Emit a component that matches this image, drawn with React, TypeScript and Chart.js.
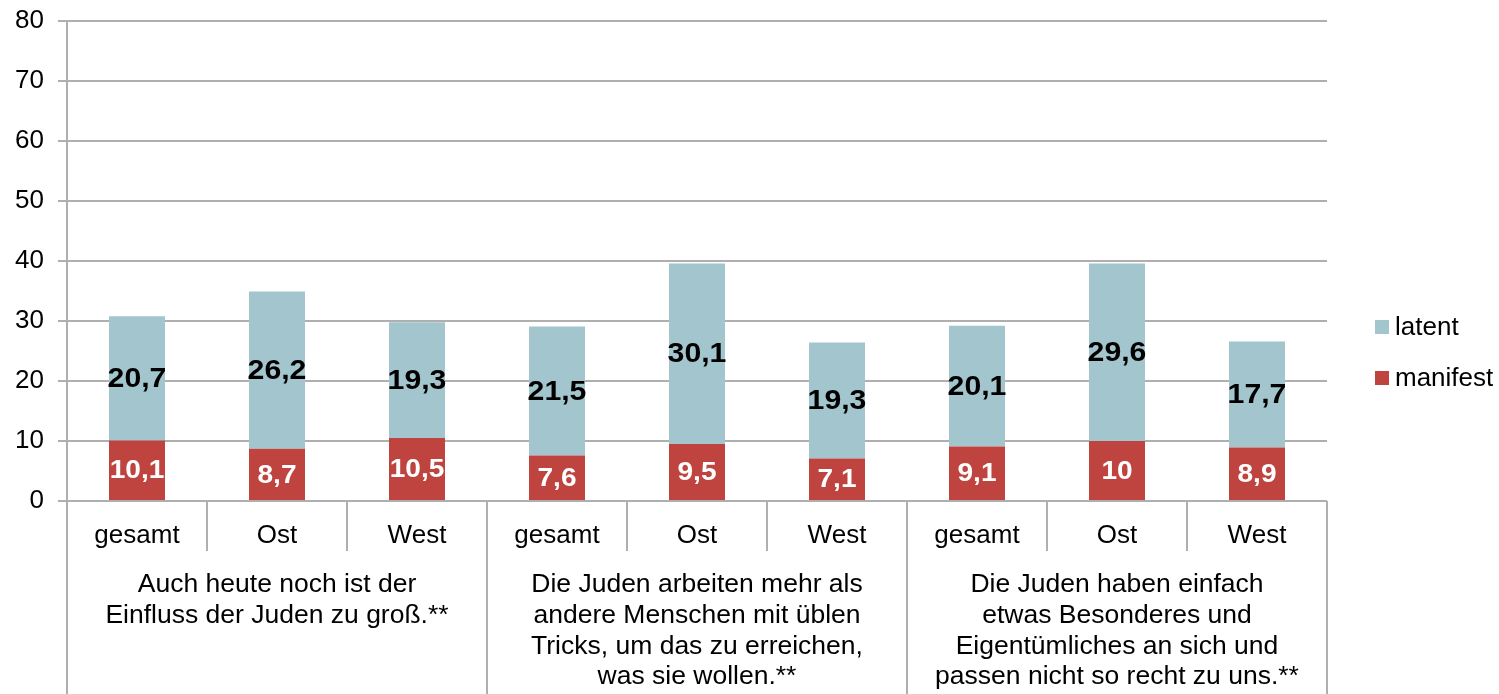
import React, { useEffect, useRef } from "react";
import { Chart, registerables } from "chart.js";

Chart.register(...registerables);

const categories = ["gesamt", "Ost", "West", "gesamt", "Ost", "West", "gesamt", "Ost", "West"];
const groupLabels = [
  ["Auch heute noch ist der", "Einfluss der Juden zu groß.**"],
  ["Die Juden arbeiten mehr als", "andere Menschen mit üblen", "Tricks, um das zu erreichen,", "was sie wollen.**"],
  ["Die Juden haben einfach", "etwas Besonderes und", "Eigentümliches an sich und", "passen nicht so recht zu uns.**"],
];
const manifest = [10.1, 8.7, 10.5, 7.6, 9.5, 7.1, 9.1, 10, 8.9];
const latent = [20.7, 26.2, 19.3, 21.5, 30.1, 19.3, 20.1, 29.6, 17.7];
const yTicks = [0, 10, 20, 30, 40, 50, 60, 70, 80];

const FONT = '"Liberation Sans", Arial, sans-serif';
const GRID = "#AFAFAF";
const COL_LATENT = "#A3C5CD";
const COL_MANIFEST = "#BF4440";

const fmt = (v: number) => String(v).replace(".", ",");

const overlay = {
  id: "overlay",
  afterDatasetsDraw(chart: any) {
    const ctx = chart.ctx;
    chart.data.datasets.forEach((ds: any, di: number) => {
      const meta = chart.getDatasetMeta(di);
      meta.data.forEach((bar: any, i: number) => {
        const cy = (bar.y + bar.base) / 2;
        ctx.save();
        ctx.font = di === 0 ? `bold 26px ${FONT}` : `bold 28px ${FONT}`;
        ctx.fillStyle = di === 0 ? "#FFFFFF" : "#000000";
        ctx.textAlign = "center";
        ctx.textBaseline = "middle";
        ctx.translate(bar.x, cy + 1);
        ctx.scale(1.08, 1);
        ctx.fillText(fmt(ds.data[i]), 0, 0);
        ctx.restore();
      });
    });
  },
  afterDraw(chart: any) {
    const ctx = chart.ctx;
    const area = chart.chartArea;
    const n = categories.length;
    const w = (area.right - area.left) / n;
    ctx.save();
    ctx.strokeStyle = GRID;
    ctx.lineWidth = 2;
    for (let i = 0; i <= n; i++) {
      const x = Math.round(area.left + i * w);
      const isGroup = i % 3 === 0;
      ctx.beginPath();
      ctx.moveTo(x, area.bottom);
      ctx.lineTo(x, isGroup ? chart.height : area.bottom + 50);
      ctx.stroke();
    }
    ctx.fillStyle = "#000";
    ctx.textAlign = "center";
    ctx.textBaseline = "middle";
    ctx.font = `26px ${FONT}`;
    const xs = chart.scales.x;
    categories.forEach((c, i) => {
      ctx.fillText(c, xs.getPixelForValue(i), area.bottom + 35);
    });
    ctx.font = `26.5px ${FONT}`;
    groupLabels.forEach((lines, g) => {
      const cx = area.left + (g * 3 + 1.5) * w;
      lines.forEach((ln, j) => {
        ctx.fillText(ln, cx, area.bottom + 84 + j * 30.7);
      });
    });
    const items = [
      { label: "latent", color: COL_LATENT, y: 327 },
      { label: "manifest", color: COL_MANIFEST, y: 378 },
    ];
    ctx.font = `26px ${FONT}`;
    ctx.textAlign = "left";
    items.forEach((it) => {
      ctx.fillStyle = it.color;
      ctx.fillRect(1375, it.y - 7, 14, 14);
      ctx.fillStyle = "#000";
      ctx.fillText(it.label, 1395, it.y + 1);
    });
    ctx.restore();
  },
};

export default function App() {
  const ref = useRef<HTMLCanvasElement>(null);
  useEffect(() => {
    document.body.style.margin = "0";
    const chart = new Chart(ref.current as HTMLCanvasElement, {
      type: "bar",
      data: {
        labels: categories,
        datasets: [
          { label: "manifest", data: manifest, backgroundColor: COL_MANIFEST, barPercentage: 0.4, categoryPercentage: 1 },
          { label: "latent", data: latent, backgroundColor: COL_LATENT, barPercentage: 0.4, categoryPercentage: 1 },
        ],
      },
      options: {
        animation: false,
        responsive: false,
        maintainAspectRatio: false,
        layout: { padding: { top: 21, bottom: 193, right: 172, left: 0 } },
        plugins: { legend: { display: false }, tooltip: { enabled: false } },
        scales: {
          x: { stacked: true, display: false, offset: true },
          y: {
            stacked: true,
            min: 0,
            max: 80,
            afterBuildTicks: (s: any) => {
              s.ticks = yTicks.map((v) => ({ value: v }));
            },
            afterFit: (s: any) => {
              s.width = 67;
              s.paddingTop = 0;
              s.paddingBottom = 0;
            },
            ticks: { font: { size: 26, family: FONT }, color: "#000", padding: 14 },
            grid: { color: GRID, lineWidth: 2, tickLength: 9 },
            border: { color: GRID, width: 2 },
          },
        },
      },
      plugins: [overlay],
    });
    return () => chart.destroy();
  }, []);
  return (
    <div style={{ position: "relative", width: 1499, height: 694 }}>
      <canvas ref={ref} width={1499} height={694} style={{ display: "block" }} />
    </div>
  );
}
